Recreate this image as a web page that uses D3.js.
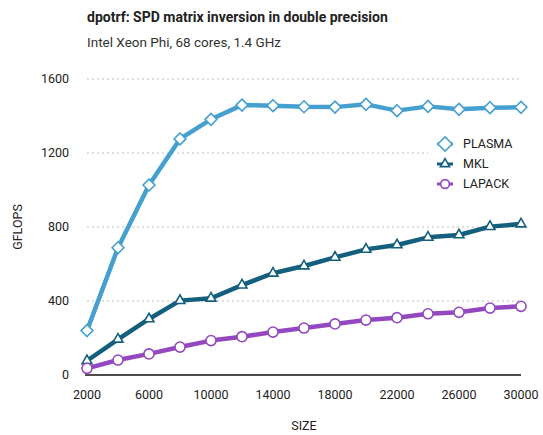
<!DOCTYPE html>
<html>
<head>
<meta charset="utf-8">
<script src="https://cdn.jsdelivr.net/npm/d3@7"></script>
<style>
  body { margin: 0; background: #fff; }
  svg { font-family: Roboto, "Noto Sans", sans-serif; }
</style>
</head>
<body>
<div id="chart"></div>
<script>
const sizes = [2000, 4000, 6000, 8000, 10000, 12000, 14000, 16000, 18000, 20000, 22000, 24000, 26000, 28000, 30000];
const plasma = [240, 688, 1027, 1276, 1382, 1459, 1456, 1450, 1448, 1463, 1429, 1452, 1436, 1445, 1447];
const mkl = [77, 193, 303, 402, 415, 486, 550, 589, 636, 679, 703, 744, 757, 802, 816];
const lapack = [36, 81, 114, 151, 186, 207, 232, 254, 276, 297, 310, 331, 339, 362, 371];
const xTicks = [2000, 6000, 10000, 14000, 18000, 22000, 26000, 30000];
const yTicks = [0, 400, 800, 1200, 1600];

const series = [
  {name: "PLASMA", values: plasma, color: "#46a0cf", symbol: d3.symbolDiamond2, size: 90},
  {name: "MKL", values: mkl, color: "#135f7d", symbol: d3.symbolTriangle2, size: 70},
  {name: "LAPACK", values: lapack, color: "#9448c0", symbol: d3.symbolCircle, size: 80}
];

const width = 543, height = 435;
const margin = {top: 79, right: 22, bottom: 60, left: 87};

const svg = d3.select("#chart").append("svg")
  .attr("width", width)
  .attr("height", height);

const x = d3.scaleLinear().domain([2000, 30000]).range([margin.left, width - margin.right]);
const y = d3.scaleLinear().domain([0, 1600]).range([height - margin.bottom, margin.top]);

// titles
svg.append("text")
  .attr("x", 87).attr("y", 22)
  .attr("font-size", 14).attr("font-weight", "bold")
  .attr("fill", "#222")
  .text("dpotrf: SPD matrix inversion in double precision");
svg.append("text")
  .attr("x", 87).attr("y", 47)
  .attr("font-size", 13.5)
  .attr("fill", "#333")
  .text("Intel Xeon Phi, 68 cores, 1.4 GHz");

// grid
svg.append("g")
  .selectAll("line")
  .data(yTicks.filter(d => d > 0))
  .join("line")
  .attr("x1", x(2000)).attr("x2", x(30000))
  .attr("y1", d => y(d)).attr("y2", d => y(d))
  .attr("stroke", "#bbb")
  .attr("stroke-dasharray", "2,3");

// y tick labels
svg.append("g")
  .selectAll("text")
  .data(yTicks)
  .join("text")
  .attr("x", 69).attr("y", d => y(d))
  .attr("dy", "0.35em")
  .attr("text-anchor", "end")
  .attr("font-size", 12.5)
  .attr("fill", "#222")
  .text(d => d);

// x axis
svg.append("line")
  .attr("x1", x(2000) - 2).attr("x2", x(30000))
  .attr("y1", y(0)).attr("y2", y(0))
  .attr("stroke", "#111").attr("stroke-width", 1.5);

svg.append("g")
  .selectAll("text")
  .data(xTicks)
  .join("text")
  .attr("x", d => x(d)).attr("y", y(0) + 24)
  .attr("text-anchor", "middle")
  .attr("font-size", 12.5)
  .attr("fill", "#222")
  .text(d => d);

svg.append("text")
  .attr("x", (x(2000) + x(30000)) / 2).attr("y", 430)
  .attr("text-anchor", "middle")
  .attr("font-size", 12.5).attr("fill", "#222")
  .text("SIZE");

svg.append("text")
  .attr("transform", `translate(22,${(y(0) + y(1600)) / 2}) rotate(-90)`)
  .attr("text-anchor", "middle")
  .attr("font-size", 12.5).attr("fill", "#222")
  .text("GFLOPS");

// legend background (breaks the grid line)
svg.append("rect")
  .attr("x", 428).attr("y", 130)
  .attr("width", 95).attr("height", 64)
  .attr("fill", "#fff");

const line = d3.line()
  .x((d, i) => x(sizes[i]))
  .y(d => y(d));

series.forEach(s => {
  svg.append("path")
    .datum(s.values)
    .attr("d", line)
    .attr("fill", "none")
    .attr("stroke", s.color)
    .attr("stroke-width", 4.5)
    .attr("stroke-linejoin", "round");

  svg.append("g")
    .selectAll("path")
    .data(s.values)
    .join("path")
    .attr("transform", (d, i) => `translate(${x(sizes[i])},${y(d)})`)
    .attr("d", d3.symbol().type(s.symbol).size(s.size))
    .attr("fill", "#fff")
    .attr("stroke", s.color)
    .attr("stroke-width", 1.6);
});

// legend
const legend = svg.append("g").attr("transform", "translate(445,144)");
series.forEach((s, i) => {
  const g = legend.append("g").attr("transform", `translate(0,${i * 20})`);
  g.append("line")
    .attr("x1", -8).attr("x2", 8)
    .attr("stroke", s.color).attr("stroke-width", 3);
  g.append("path")
    .attr("d", d3.symbol().type(s.symbol).size(s.name === "PLASMA" ? 130 : 60))
    .attr("fill", "#fff")
    .attr("stroke", s.color)
    .attr("stroke-width", 1.6);
  g.append("text")
    .attr("x", 18).attr("dy", "0.35em")
    .attr("font-size", 12.5).attr("fill", "#222")
    .text(s.name);
});
</script>
</body>
</html>
